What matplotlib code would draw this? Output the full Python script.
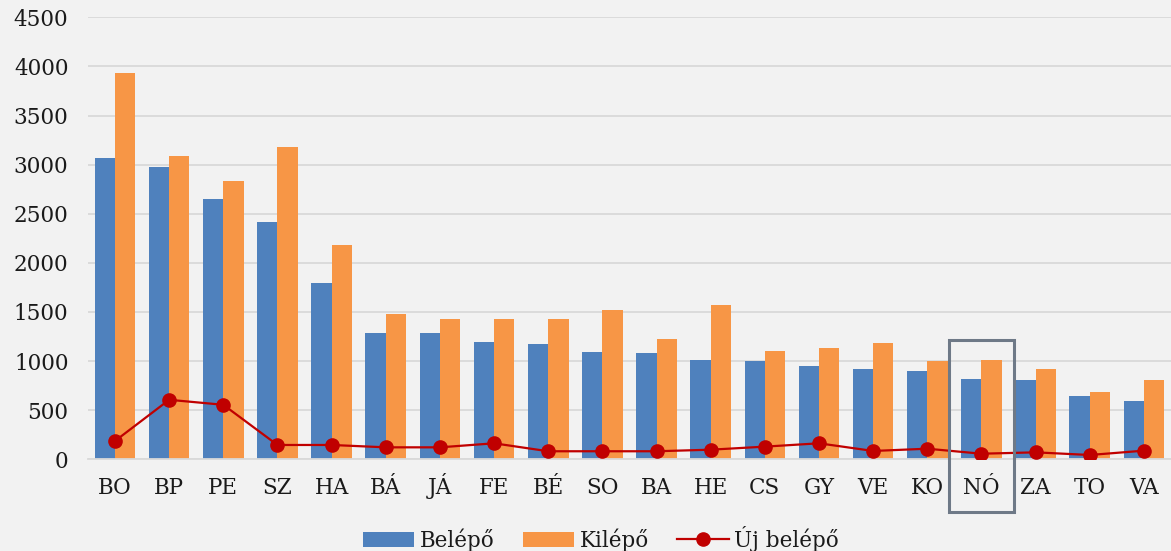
import matplotlib
matplotlib.use("Agg")
import matplotlib.pyplot as plt
import matplotlib.transforms as mtransforms
from matplotlib.patches import Rectangle
import numpy as np

categories = ["BO", "BP", "PE", "SZ", "HA", "BÁ", "JÁ", "FE", "BÉ", "SO",
              "BA", "HE", "CS", "GY", "VE", "KO", "NÓ", "ZA", "TO", "VA"]
belepo = [3067, 2979, 2652, 2417, 1798, 1288, 1287, 1195, 1171, 1093,
          1079, 1011, 1001, 946, 919, 895, 817, 803, 647, 596]
kilepo = [3932, 3085, 2836, 3177, 2179, 1484, 1433, 1433, 1433, 1522,
          1222, 1576, 1103, 1130, 1181, 1001, 1011, 919, 684, 803]
uj_belepo = [187, 606, 555, 146, 146, 122, 122, 163, 82, 82,
             82, 98, 129, 163, 85, 108, 57, 71, 44, 88]
yticks = [0, 500, 1000, 1500, 2000, 2500, 3000, 3500, 4000, 4500]
legend_labels = ["Belépő", "Kilépő", "Új belépő"]
highlight = "NÓ"

BG = "#f2f2f2"
TXT = "#1a1a1a"
plt.rcParams['font.family'] = ['DejaVu Serif']

fig = plt.figure(figsize=(11.71, 5.51), dpi=100, facecolor=BG)
ax = fig.add_axes([0.0751, 0.1664, 0.9249, 0.8022], facecolor=BG)

x = np.arange(len(categories))
w = 0.375
b1 = ax.bar(x - w / 2, belepo, width=w, color="#4f81bd", label=legend_labels[0], zorder=2)
b2 = ax.bar(x + w / 2, kilepo, width=w, color="#f79646", label=legend_labels[1], zorder=2)
l1, = ax.plot(x, uj_belepo, color="#c00000", marker="o", markersize=9.5,
              linewidth=1.6, label=legend_labels[2], zorder=3)

ax.set_xlim(-0.5, len(categories) - 0.5)
ax.set_ylim(0, 4500)
ax.set_yticks(yticks)
ax.set_xticks(x)
ax.set_xticklabels(categories)
ax.tick_params(axis="both", length=0, labelsize=15.5, colors=TXT)
ax.tick_params(axis="y", pad=14)
ax.tick_params(axis="x", pad=25)
for lbl in ax.get_xticklabels():
    lbl.set_va("baseline")
ax.grid(axis="y", color="#d9d9d9", linewidth=1.3, zorder=0)
ax.set_axisbelow(True)
for s in ["top", "right", "left"]:
    ax.spines[s].set_visible(False)
ax.spines["bottom"].set_color("#d9d9d9")
ax.spines["bottom"].set_linewidth(1.3)

# highlight box around NÓ
idx = categories.index(highlight)
trans = mtransforms.blended_transform_factory(ax.transData, fig.transFigure)
rect = Rectangle((idx - 0.6, 0.0713), 1.2, 0.383 - 0.0713, transform=trans,
                 fill=False, edgecolor="#6e7987", linewidth=2.2, clip_on=False, zorder=5)
fig.add_artist(rect)

leg = fig.legend(handles=[b1, b2, l1], loc="center", bbox_to_anchor=(0.513, 0.022),
                 ncol=3, frameon=False, fontsize=15.5, handlelength=2.4,
                 handletextpad=0.25, columnspacing=1.3, borderpad=0.1)
for t in leg.get_texts():
    t.set_color(TXT)

fig.savefig("out.png", dpi=100, facecolor=BG)
